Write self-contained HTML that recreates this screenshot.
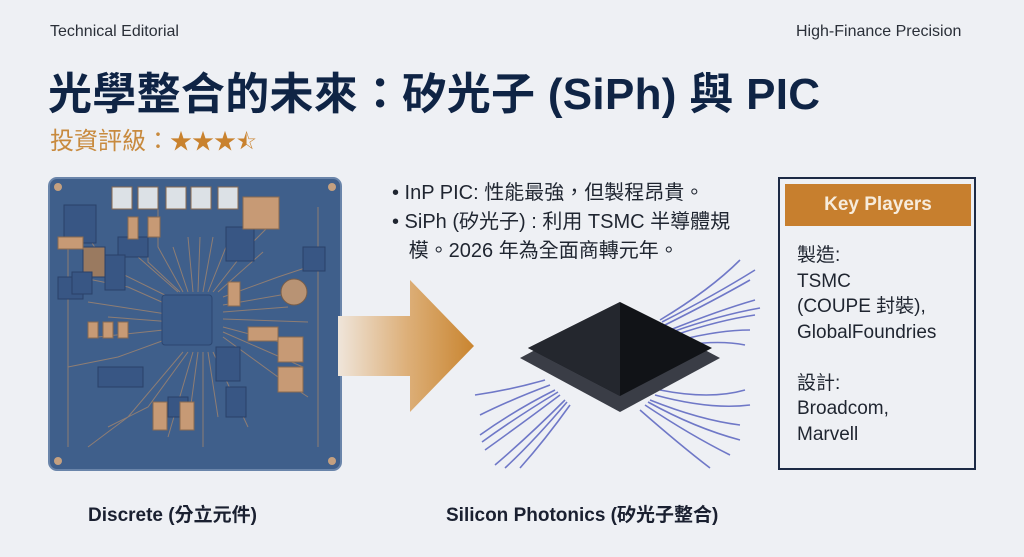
<!DOCTYPE html>
<html><head><meta charset="utf-8"><style>
body{margin:0;width:1024px;height:557px;background:#eef0f4;position:relative;overflow:hidden;font-family:"Liberation Sans","Noto Sans CJK TC",sans-serif;color:#1b2230}
.a{position:absolute;white-space:nowrap}
</style></head><body>
<div class="a" style="left:50px;top:23px;font-size:16px;color:#2a2f38">Technical Editorial</div>
<div class="a" style="left:796px;top:23px;font-size:16px;color:#2a2f38">High-Finance Precision</div>
<div class="a" style="left:48px;top:58px;font-size:44px;font-weight:bold;color:#0f2445;letter-spacing:0.3px">光學整合的未來：矽光子 (SiPh) 與 PIC</div>
<div class="a" style="left:50px;top:121px;font-size:24px;color:#c88a3e">投資評級：<span style="color:#c9822e;font-size:22px">★★★⯪</span></div>

<svg class="a" style="left:48px;top:177px" width="294" height="294" viewBox="0 0 294 294">
<rect x="1" y="1" width="292" height="292" rx="8" fill="#3f5f8b" stroke="#6a85aa" stroke-width="2"/>
<g fill="none" stroke="#b08a6a" stroke-width="1" opacity="0.7">
<path d="M130 115 L90 80 L90 40 M135 115 L110 70 L110 30 M145 115 L140 60 M155 115 L165 60 M165 115 L200 70 L230 40 M175 120 L230 100 L260 90 M175 135 L240 130 M175 150 L250 170 M175 160 L230 200 L260 220 M160 175 L170 240 M150 175 L140 250 M140 175 L100 230 L60 250 M125 160 L70 180 L20 190 M125 145 L60 140 M125 130 L80 110 L30 100 M20 30 L20 270 M270 30 L270 270"/>
<path d="M132 115 L100 85 L100 40 M140 115 L125 70 M150 115 L152 60 M160 115 L180 65 M170 115 L215 75 M175 128 L250 115 M175 142 L260 145 M175 155 L255 190 M165 175 L200 250 M155 175 L155 270 M145 175 L120 260 M135 175 L80 240 L40 270 M125 152 L50 160 M125 138 L40 125 M125 122 L60 90 L40 60"/>
</g>
<rect x="114" y="118" width="50" height="50" rx="3" fill="#3a5a88" stroke="#2c4670"/>
<g fill="#385684" stroke="#2a4068">
<rect x="16" y="28" width="32" height="38"/><rect x="70" y="60" width="30" height="20"/><rect x="178" y="50" width="28" height="34"/><rect x="10" y="100" width="25" height="22"/><rect x="35" y="70" width="22" height="30" fill="#9a7a60"/><rect x="57" y="78" width="20" height="35"/><rect x="50" y="190" width="45" height="20"/><rect x="168" y="170" width="24" height="34"/><rect x="178" y="210" width="20" height="30"/><rect x="24" y="95" width="20" height="22"/><rect x="255" y="70" width="22" height="24"/><rect x="120" y="220" width="20" height="20"/>
</g>
<g fill="#c79a75" stroke="#8a6a50">
<rect x="195" y="20" width="36" height="32"/><rect x="10" y="60" width="25" height="12"/><rect x="118" y="10" width="20" height="22" fill="#dce1e6"/><rect x="90" y="10" width="20" height="22" fill="#dce1e6"/><rect x="64" y="10" width="20" height="22" fill="#dce1e6"/><rect x="143" y="10" width="20" height="22" fill="#dce1e6"/><rect x="170" y="10" width="20" height="22" fill="#dce1e6"/>
<rect x="100" y="40" width="12" height="20"/><rect x="80" y="40" width="10" height="22"/><rect x="200" y="150" width="30" height="14"/><rect x="180" y="105" width="12" height="24"/><rect x="230" y="160" width="25" height="25"/><rect x="230" y="190" width="25" height="25"/><rect x="105" y="225" width="14" height="28"/><rect x="132" y="225" width="14" height="28"/><rect x="40" y="145" width="10" height="16"/><rect x="55" y="145" width="10" height="16"/><rect x="70" y="145" width="10" height="16"/>
</g>
<circle cx="246" cy="115" r="13" fill="#b89374" stroke="#7a5e48"/>
<g fill="#c4a080"><circle cx="10" cy="10" r="4"/><circle cx="284" cy="10" r="4"/><circle cx="10" cy="284" r="4"/><circle cx="284" cy="284" r="4"/></g>
</svg>

<svg class="a" style="left:338px;top:280px" width="140" height="134" viewBox="0 0 140 134">
<defs><linearGradient id="g" x1="0" x2="1"><stop offset="0" stop-color="#efe5da"/><stop offset="0.5" stop-color="#ddb07a"/><stop offset="1" stop-color="#c98530"/></linearGradient></defs>
<path d="M0 36 L72 36 L72 0 L136 66 L72 132 L72 96 L0 96Z" fill="url(#g)"/>
</svg>

<div class="a" style="left:392px;top:179px;font-size:20px;line-height:29px;color:#1f2530">• InP PIC: 性能最強，但製程昂貴。<br>• SiPh (矽光子) : 利用 TSMC 半導體規<br>&nbsp;&nbsp;&nbsp;模。2026 年為全面商轉元年。</div>

<svg class="a" style="left:470px;top:250px" width="300" height="220" viewBox="0 0 300 220">
<g fill="none" stroke="#5a64c0" stroke-width="1.6" opacity="0.85">
<path d="M190 70 Q240 40 270 10"/><path d="M195 75 Q245 50 280 30"/><path d="M200 80 Q250 60 285 50"/><path d="M205 85 Q250 70 285 65"/><path d="M210 90 Q250 80 280 80"/><path d="M215 95 Q250 90 275 95"/><path d="M192 72 Q245 45 285 20"/><path d="M202 82 Q250 65 290 58"/>
<path d="M80 135 Q40 150 10 165"/><path d="M85 140 Q45 160 10 185"/><path d="M90 145 Q50 175 15 200"/><path d="M95 150 Q60 185 25 215"/><path d="M100 155 Q75 190 50 218"/><path d="M75 130 Q40 140 5 145"/><path d="M88 142 Q45 168 12 192"/><path d="M97 152 Q65 190 35 218"/>
<path d="M180 150 Q230 170 270 175"/><path d="M185 145 Q240 160 280 155"/><path d="M175 155 Q220 185 260 205"/><path d="M170 160 Q210 195 240 218"/><path d="M190 140 Q240 150 275 140"/><path d="M178 152 Q225 178 270 190"/>
</g>
<path d="M50 108 L150 55 L250 108 L150 162Z" fill="#3a3d46"/>
<path d="M58 98 L150 52 L242 98 L150 146Z" fill="#111317"/>
<path d="M58 98 L150 52 L150 146Z" fill="#24272e"/>
</svg>

<div style="position:absolute;left:778px;top:177px;width:194px;height:289px;border:2px solid #1c2a45"></div>
<div class="a" style="left:785px;top:184px;width:186px;height:42px;background:#c77f2e;color:#f7ecdc;font-size:19px;font-weight:bold;text-align:center;line-height:42px">Key Players</div>
<div class="a" style="left:797px;top:243px;font-size:19px;line-height:25.5px;color:#1f2530">製造:<br>TSMC<br>(COUPE 封裝),<br>GlobalFoundries<br><br>設計:<br>Broadcom,<br>Marvell</div>

<div class="a" style="left:88px;top:500px;font-size:19px;font-weight:bold;color:#1a2030">Discrete (分立元件)</div>
<div class="a" style="left:446px;top:500px;font-size:19px;font-weight:bold;color:#1a2030">Silicon Photonics (矽光子整合)</div>
</body></html>
